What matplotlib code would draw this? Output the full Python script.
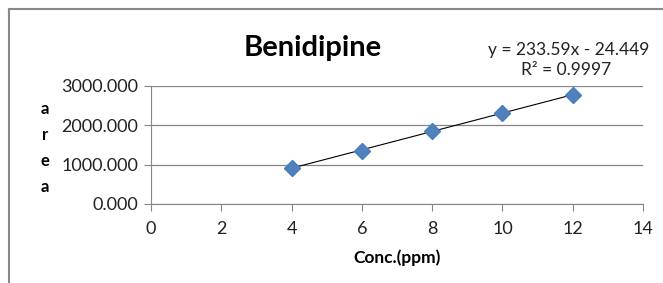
import numpy as np
import matplotlib.pyplot as plt
from matplotlib.lines import Line2D

# Data
conc = [4, 6, 8, 10, 12]
area = [912, 1360, 1855, 2310, 2780]
x_ticks = [0, 2, 4, 6, 8, 10, 12, 14]
y_ticks = [0, 1000, 2000, 3000]
slope, intercept = 233.59, -24.449

plt.rcParams['font.family'] = ['Lato', 'DejaVu Sans']

fig = plt.figure(figsize=(6.63, 2.83), dpi=100)
ax = fig.add_axes([151 / 663, 1 - 204 / 283, (643 - 151) / 663, (204 - 86) / 283])

grid_col = "#868686"

# trend line across the data range
fit_x = np.array([conc[0], conc[-1]])
ax.plot(fit_x, slope * fit_x + intercept, color="black", lw=0.8, zorder=2)
ax.plot(conc, area, linestyle="none", marker="D", markersize=8.5,
        color="#4F81BD", markeredgecolor="#4A7EBB", zorder=3)

ax.set_xlim(0, 14)
ax.set_ylim(0, 3000)
ax.set_xticks(x_ticks)
ax.set_yticks(y_ticks)
ax.set_yticklabels([f"{v:.3f}" for v in y_ticks])
ax.yaxis.grid(True, color=grid_col, lw=0.9)
ax.set_axisbelow(True)

for side in ["top", "right"]:
    ax.spines[side].set_visible(False)
for side in ["left", "bottom"]:
    ax.spines[side].set_color(grid_col)
ax.tick_params(axis="both", colors=grid_col, length=5, direction="out",
               labelsize=13, labelcolor="#222222", pad=4)
ax.tick_params(axis="x", pad=7)

ax.set_xlabel("Conc.(ppm)", fontsize=12.5, fontweight="bold", labelpad=9)

fig.text(313 / 663, 1 - 48 / 283, "Benidipine", fontsize=21, fontweight="bold",
         ha="center", va="center")
fig.text(569 / 663, 1 - 50 / 283, "y = 233.59x - 24.449", fontsize=12.5,
         ha="center", va="center", color="#222222")
fig.text(566 / 663, 1 - 70 / 283, "R² = 0.9997", fontsize=12.5,
         ha="center", va="center", color="#222222")

fig.text(45 / 663, 1 - 148 / 283, "a\nr\ne\na", fontsize=12, fontweight="bold",
         ha="center", va="center", linespacing=1.75)

# outer chart border
fig.add_artist(Line2D([9 / 663, 9 / 663], [0, 1 - 9 / 283], color="#8a8a8a", lw=1.5,
                      transform=fig.transFigure))
fig.add_artist(Line2D([9 / 663, 1], [1 - 9 / 283, 1 - 9 / 283], color="#8a8a8a", lw=1.5,
                      transform=fig.transFigure))

fig.savefig("out.png", dpi=100)
